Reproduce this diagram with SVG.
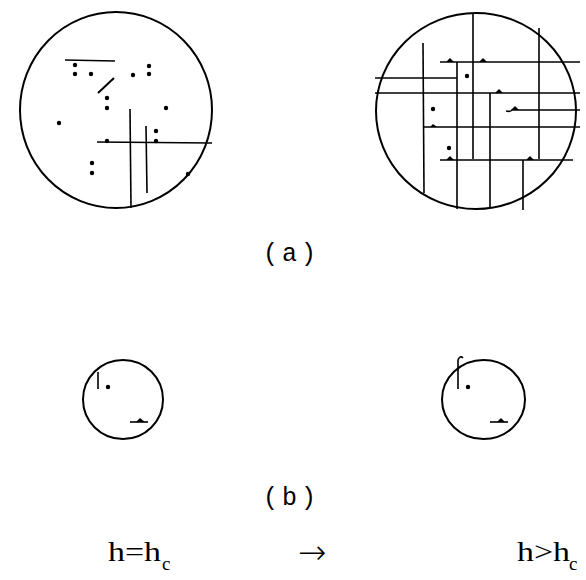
<svg xmlns="http://www.w3.org/2000/svg" width="586" height="580" viewBox="0 0 586 580">
<style>
.c{fill:none;stroke:#000;stroke-width:2}
.l{fill:none;stroke:#000;stroke-width:1.6}
.d{fill:#000}
.mono{font-family:"Liberation Mono","Courier New",monospace;font-size:25px;letter-spacing:4px;fill:#000}
.ser{font-family:"Liberation Serif","Times New Roman",serif;fill:#000}
</style>
<rect width="586" height="580" fill="#fff"/>
<g id="circle-a-left">
<ellipse class="c" cx="116" cy="110" rx="96" ry="98"/>
<g class="l">
<line x1="65" y1="60" x2="115" y2="61"/>
<line x1="98" y1="93" x2="114" y2="78" stroke-width="2"/>
<line x1="97" y1="142" x2="212" y2="143"/>
<line x1="130" y1="109" x2="131" y2="208"/>
<line x1="146" y1="126" x2="147" y2="193"/>
</g>
<g class="d">
<circle cx="75" cy="65" r="2.2"/><circle cx="75" cy="74" r="2.2"/><circle cx="91" cy="74" r="2.2"/>
<circle cx="149" cy="66" r="2.2"/><circle cx="149" cy="74" r="2.2"/><circle cx="133" cy="75" r="2.2"/>
<circle cx="107" cy="98" r="2.2"/><circle cx="107" cy="108" r="2.2"/><circle cx="166" cy="108" r="2.2"/>
<circle cx="59" cy="123" r="2.2"/><circle cx="156" cy="131" r="2.2"/><circle cx="156" cy="141" r="2.2"/>
<circle cx="107" cy="141" r="2.2"/><circle cx="92" cy="163" r="2.2"/><circle cx="92" cy="173" r="2.2"/>
<circle cx="188" cy="174" r="2.2"/>
</g>
</g>
<g id="circle-a-right">
<ellipse class="c" cx="476" cy="111" rx="100" ry="98"/>
<g class="l">
<line x1="473" y1="13" x2="473" y2="159"/>
<line x1="423" y1="43" x2="424" y2="193"/>
<line x1="539" y1="28" x2="539" y2="159"/>
<line x1="457" y1="62" x2="457" y2="209"/>
<line x1="490" y1="93" x2="490" y2="208"/>
<line x1="523" y1="160" x2="523" y2="210"/>
<line x1="440" y1="62" x2="580" y2="62"/>
<line x1="375" y1="78" x2="457" y2="78"/>
<line x1="375" y1="93" x2="580" y2="93"/>
<path d="M506 111 Q511 112 512 110 L580 110"/>
<line x1="424" y1="127" x2="580" y2="127"/>
<line x1="440" y1="160" x2="573" y2="160"/>
</g>
<g class="d">
<path d="M446 62 L450 58 L454 62 Z"/><path d="M479 62 L483 58 L487 62 Z"/>
<path d="M495 93 L499 89 L503 93 Z"/><path d="M511 110 L515 106 L519 110 Z"/>
<path d="M430 127 L433 124 L437 127 Z"/><path d="M446 160 L450 156 L454 160 Z"/>
<path d="M526 160 L530 156 L534 160 Z"/>
<circle cx="467" cy="76" r="2.2"/><circle cx="433" cy="109" r="2.2"/><circle cx="449" cy="148" r="2.2"/>
</g>
</g>
<g id="label-a"><text class="mono" x="263" y="261">(a)</text></g>
<g id="circle-b-left">
<ellipse class="c" cx="123" cy="399.5" rx="40" ry="39.5"/>
<line class="l" x1="98" y1="372" x2="98" y2="389"/>
<circle class="d" cx="108" cy="387" r="2.2"/>
<line class="l" x1="130" y1="422" x2="148" y2="422"/>
<path class="d" d="M136 422 L140 418 L145 422 Z"/>
</g>
<g id="circle-b-right">
<ellipse class="c" cx="483.5" cy="399.5" rx="41.5" ry="39.5"/>
<path class="l" d="M458 389 L458 360 Q460 355 463 358"/>
<circle class="d" cx="468" cy="387" r="2.2"/>
<line class="l" x1="490" y1="422" x2="508" y2="422"/>
<path class="d" d="M497 422 L501 418 L505 422 Z"/>
</g>
<g id="label-b"><text class="mono" x="263" y="505">(b)</text></g>
<g id="formula">
<text class="ser" x="108" y="561" font-size="27" textLength="53" lengthAdjust="spacingAndGlyphs">h=h</text>
<text class="ser" x="162" y="570" font-size="19">c</text>
<text x="298" y="564" font-family="DejaVu Sans, sans-serif" font-size="34" font-weight="200" fill="#000">→</text>
<text class="ser" x="517" y="561" font-size="27" textLength="53" lengthAdjust="spacingAndGlyphs">h&gt;h</text>
<text class="ser" x="569" y="570" font-size="19">c</text>
</g>
</svg>
